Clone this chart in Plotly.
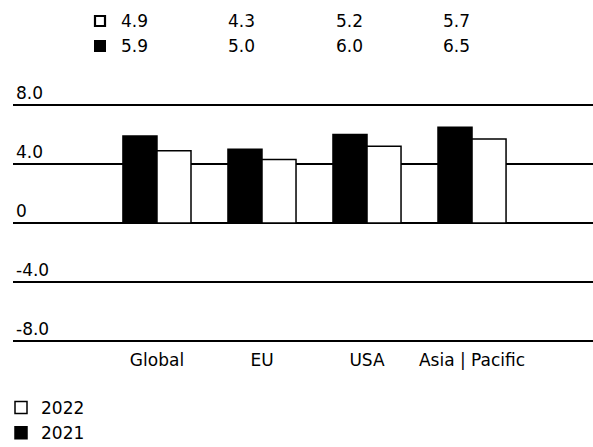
import plotly.graph_objects as go

categories = ["Global", "EU", "USA", "Asia | Pacific"]
values_2021 = [5.9, 5.0, 6.0, 6.5]
values_2022 = [4.9, 4.3, 5.2, 5.7]
series_names = ["2021", "2022"]
tick_vals = [8, 4, 0, -4, -8]
tick_text = ["8.0", "4.0", "0", "-4.0", "-8.0"]

W, H = 593, 447
L, R, T, B = 13, 0, 80, 102
PW, PH = W - L - R, H - T - B
FONT = "DejaVu Sans"
FS = 17


def px_x(x):
    return (x - L) / PW


def px_y(y):
    return (H - B - y) / PH


fig = go.Figure()
fig.add_trace(go.Bar(x=categories, y=values_2021, name=series_names[0],
                     marker=dict(color="black", line=dict(color="black", width=1.5))))
fig.add_trace(go.Bar(x=categories, y=values_2022, name=series_names[1],
                     marker=dict(color="white", line=dict(color="black", width=1.5))))

# top value table
col_x = [119, 226, 334, 441]
annotations = []
for row_vals, ypx in [(values_2022, 21), (values_2021, 46)]:
    for v, xp in zip(row_vals, col_x):
        annotations.append(dict(text=f"{v:.1f}", x=px_x(xp), y=px_y(ypx), xref="paper", yref="paper",
                                xanchor="left", yanchor="middle", showarrow=False,
                                font=dict(size=FS, color="black", family=FONT)))

shapes = [
    dict(type="rect", xref="paper", yref="paper", x0=px_x(95), x1=px_x(105), y0=px_y(26), y1=px_y(16),
         line=dict(color="black", width=2.2), fillcolor="white"),
    dict(type="rect", xref="paper", yref="paper", x0=px_x(94), x1=px_x(106), y0=px_y(52), y1=px_y(40),
         line=dict(color="black", width=0), fillcolor="black"),
]

fig.update_layout(
    width=W, height=H,
    margin=dict(l=L, r=R, t=T, b=B, autoexpand=False),
    paper_bgcolor="white", plot_bgcolor="white",
    barmode="group", bargap=0.352, bargroupgap=0.0,
    font=dict(family=FONT, color="black", size=FS),
    showlegend=True,
    legend=dict(orientation="v", x=px_x(1), xanchor="left", y=px_y(390), yanchor="top",
                traceorder="reversed", font=dict(size=FS, family=FONT),
                itemwidth=30, tracegroupgap=0, bgcolor="rgba(0,0,0,0)"),
    annotations=annotations,
    shapes=shapes,
)
fig.update_xaxes(range=[-1.371, 4.152], showgrid=False, showline=False, zeroline=False,
                 ticks="outside", ticklen=0, tickcolor="rgba(0,0,0,0)",
                 tickfont=dict(size=FS, family=FONT))
fig.update_yaxes(range=[-8.27, 9.695], tickvals=tick_vals, ticktext=tick_text,
                 showgrid=True, gridcolor="black", gridwidth=1.5,
                 zeroline=True, zerolinecolor="black", zerolinewidth=1.5,
                 showline=False, ticklabelposition="inside top",
                 tickfont=dict(size=FS, family=FONT, color="black"))

fig.write_html("out.html", config={"displayModeBar": False},
               post_script="document.body.style.margin='0';document.body.style.padding='0';")
